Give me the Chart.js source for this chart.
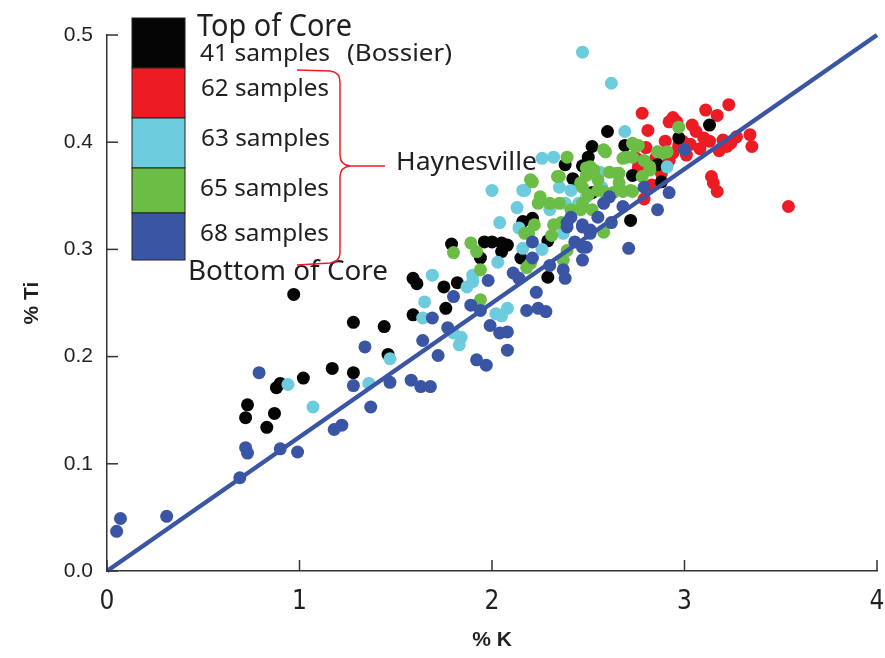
<!DOCTYPE html>
<html>
<head>
<meta charset="utf-8">
<script src="https://cdn.jsdelivr.net/npm/chart.js@4.4.1/dist/chart.umd.min.js"></script>
<style>
  body { margin: 0; background: #fff; }
  #wrap { position: relative; width: 885px; height: 658px; }
  #overlay { position: absolute; left: 0; top: 0; pointer-events: none; }
  #overlay text { font-family: "Noto Sans", "Open Sans", sans-serif; fill: #231f20; }
</style>
</head>
<body>
<div id="wrap">
  <canvas id="grafico" width="885" height="658"></canvas>
  <svg id="overlay" width="885" height="658">
    <rect x="132" y="18" width="53" height="50" fill="#050505" stroke="#222" stroke-width="1"/>
    <rect x="132" y="68" width="53" height="50" fill="#ed1c24" stroke="#222" stroke-width="1"/>
    <rect x="132" y="118" width="53" height="50" fill="#6ccbdc" stroke="#222" stroke-width="1"/>
    <rect x="132" y="168" width="53" height="45" fill="#6cbd45" stroke="#222" stroke-width="1"/>
    <rect x="132" y="213" width="53" height="47" fill="#3b55a5" stroke="#222" stroke-width="1"/>
    <text x="197" y="36" font-size="30" textLength="155" lengthAdjust="spacingAndGlyphs">Top of Core</text>
    <text x="200" y="61" font-size="23" textLength="130" lengthAdjust="spacingAndGlyphs">41 samples</text>
    <text x="347" y="61" font-size="23" textLength="105" lengthAdjust="spacingAndGlyphs">(Bossier)</text>
    <text x="201" y="96" font-size="23" textLength="128" lengthAdjust="spacingAndGlyphs">62 samples</text>
    <text x="201" y="146" font-size="23" textLength="129" lengthAdjust="spacingAndGlyphs">63 samples</text>
    <text x="200" y="196" font-size="23" textLength="129" lengthAdjust="spacingAndGlyphs">65 samples</text>
    <text x="200" y="241" font-size="23" textLength="129" lengthAdjust="spacingAndGlyphs">68 samples</text>
    <text x="188" y="280" font-size="28" textLength="200" lengthAdjust="spacingAndGlyphs">Bottom of Core</text>
    <text x="396" y="170" font-size="26" textLength="141" lengthAdjust="spacingAndGlyphs">Haynesville</text>
    <path d="M297,70 L330,71 Q340,72 340,82 L340,155 Q340,165 350,166 L385,166 M350,166 Q340,167 340,177 L340,252 Q340,262 330,263 L297,265"
          fill="none" stroke="#ed1c24" stroke-width="1.5"/>
  </svg>
</div>
<script>
// % K vs % Ti for each core section
var bossier = [
  [0.72,0.143],[0.73,0.155],[0.83,0.134],[0.87,0.147],[0.88,0.171],[0.90,0.175],[0.97,0.258],[1.02,0.180],
  [1.17,0.189],[1.28,0.185],[1.28,0.232],[1.44,0.228],[1.46,0.202],[1.59,0.239],[1.59,0.273],[1.61,0.268],
  [1.75,0.265],[1.76,0.245],[1.82,0.269],[1.79,0.305],[1.94,0.292],[1.96,0.307],[2.00,0.307],[2.05,0.306],
  [2.08,0.304],[2.05,0.298],[2.15,0.292],[2.16,0.326],[2.21,0.329],[2.29,0.274],[2.29,0.308],[2.38,0.379],
  [2.42,0.366],[2.44,0.362],[2.47,0.378],[2.50,0.386],[2.52,0.396],[2.52,0.353],[2.60,0.410],[2.69,0.397],
  [2.73,0.369],[2.72,0.327],[2.86,0.379],[2.88,0.363],[2.97,0.404],[3.13,0.416]
];
var hay62 = [
  [2.78,0.427],[2.81,0.411],[2.92,0.419],[2.94,0.423],[2.96,0.419],[3.11,0.430],[3.17,0.425],[3.23,0.435],
  [3.04,0.416],[3.06,0.410],[3.10,0.404],[3.13,0.401],[3.20,0.402],[3.24,0.399],[3.22,0.396],[3.34,0.407],
  [3.35,0.396],[3.01,0.388],[3.08,0.394],[3.14,0.368],[3.15,0.362],[3.17,0.354],[3.54,0.340],[2.94,0.390],
  [2.97,0.397],[2.88,0.371],[2.92,0.383],[2.85,0.385],[2.80,0.395],[2.76,0.377],[2.83,0.360],[2.99,0.401],
  [3.03,0.398],[2.90,0.401],[2.79,0.347],[2.75,0.385],[3.18,0.392],[3.27,0.405]
];
var hay63 = [
  [0.94,0.174],[1.07,0.153],[1.36,0.175],[1.47,0.198],[1.64,0.236],[1.65,0.251],[1.69,0.276],[1.80,0.222],
  [1.84,0.218],[1.83,0.211],[1.87,0.265],[1.90,0.270],[1.90,0.276],[2.00,0.355],[2.04,0.325],[2.13,0.339],
  [2.03,0.288],[2.02,0.240],[2.08,0.245],[2.05,0.238],[2.16,0.355],[2.17,0.355],[2.26,0.385],[2.32,0.386],
  [2.26,0.300],[2.16,0.301],[2.30,0.337],[2.35,0.358],[2.41,0.355],[2.38,0.343],[2.37,0.315],[2.47,0.484],
  [2.62,0.455],[2.69,0.410],[2.56,0.372],[2.57,0.358],[2.49,0.349],[2.91,0.377],[2.14,0.320],[2.45,0.343]
];
var hay65 = [
  [1.80,0.297],[1.89,0.306],[1.92,0.298],[1.94,0.281],[1.94,0.253],[2.18,0.283],[2.20,0.287],[2.17,0.315],
  [2.19,0.315],[2.31,0.313],[2.32,0.323],[2.36,0.325],[2.24,0.343],[2.39,0.299],[2.37,0.290],[2.39,0.386],
  [2.59,0.391],[2.21,0.363],[2.20,0.365],[2.34,0.368],[2.49,0.376],[2.25,0.349],[2.30,0.343],[2.35,0.343],
  [2.47,0.358],[2.55,0.365],[2.22,0.323],[2.46,0.337],[2.50,0.351],[2.58,0.393],[2.53,0.374],[2.97,0.414],
  [2.74,0.397],[2.86,0.391],[2.89,0.390],[2.91,0.391],[2.73,0.399],[2.76,0.397],[2.70,0.386],[2.73,0.386],
  [2.68,0.385],[2.79,0.383],[2.82,0.377],[2.78,0.368],[2.66,0.371],[2.61,0.372],[2.51,0.377],[2.49,0.369],
  [2.46,0.362],[2.55,0.355],[2.58,0.354],[2.63,0.353],[2.68,0.354],[2.73,0.354],[2.47,0.343],[2.52,0.337],
  [2.41,0.337],[2.58,0.316],[2.35,0.368],[2.65,0.371],[2.82,0.374],[2.66,0.362],[2.72,0.355]
];
var hay68 = [
  [0.05,0.037],[0.07,0.049],[0.31,0.051],[0.69,0.087],[0.72,0.115],[0.73,0.110],[0.90,0.114],[0.99,0.111],
  [1.18,0.132],[1.22,0.136],[0.79,0.185],[1.28,0.173],[1.37,0.153],[1.34,0.209],[1.47,0.176],[1.58,0.178],
  [1.63,0.172],[1.68,0.172],[1.64,0.215],[1.69,0.236],[1.72,0.201],[1.77,0.227],[1.80,0.256],[1.89,0.248],
  [1.94,0.243],[1.92,0.197],[1.97,0.192],[1.99,0.229],[2.04,0.222],[2.08,0.223],[2.08,0.206],[1.98,0.271],
  [2.11,0.278],[2.14,0.273],[2.18,0.243],[2.24,0.245],[2.28,0.242],[2.23,0.260],[2.21,0.292],[2.21,0.307],
  [2.37,0.281],[2.38,0.273],[2.47,0.290],[2.49,0.302],[2.39,0.321],[2.47,0.323],[2.51,0.318],[2.43,0.307],
  [2.61,0.349],[2.58,0.343],[2.68,0.340],[2.41,0.330],[2.39,0.325],[2.47,0.321],[2.51,0.315],[2.47,0.302],
  [2.79,0.358],[2.86,0.337],[2.92,0.353],[3.00,0.393],[2.71,0.301],[2.30,0.285],[2.55,0.330],[2.62,0.325]
];
// reference line
var lineK = [0, 4];
var lineTi = [0, 0.5];

var xTicks = [0, 1, 2, 3, 4];
var yTicks = [0, 0.1, 0.2, 0.3, 0.4, 0.5];

function pts(arr) {
  return arr.map(function (p) { return { x: p[0], y: p[1] }; });
}

function serie(label, arr, cor, ordem) {
  return {
    label: label,
    data: pts(arr),
    backgroundColor: cor,
    borderWidth: 0,
    pointRadius: 6.5,
    pointHoverRadius: 6.5,
    order: ordem
  };
}

var tickFont = "'Liberation Sans Narrow', 'DejaVu Sans Condensed', sans-serif";

// ticks pointing into the plot
var innerTicks = {
  id: 'innerTicks',
  afterDraw: function (chart) {
    var ctx = chart.ctx, a = chart.chartArea, x = chart.scales.x, y = chart.scales.y;
    ctx.save();
    ctx.strokeStyle = '#333';
    ctx.lineWidth = 1.5;
    xTicks.forEach(function (v) {
      var px = x.getPixelForValue(v);
      ctx.beginPath(); ctx.moveTo(px, a.bottom); ctx.lineTo(px, a.bottom - 11); ctx.stroke();
    });
    yTicks.forEach(function (v) {
      var py = y.getPixelForValue(v);
      ctx.beginPath(); ctx.moveTo(a.left, py); ctx.lineTo(a.left + 11, py); ctx.stroke();
    });
    ctx.restore();
  }
};

var ctx = document.getElementById('grafico').getContext('2d');
var grafico = new Chart(ctx, {
  type: 'scatter',
  data: {
    datasets: [
      {
        type: 'line',
        label: 'linha',
        data: lineK.map(function (k, i) { return { x: k, y: lineTi[i] }; }),
        borderColor: '#3b55a5',
        borderWidth: 4.5,
        pointRadius: 0,
        fill: false,
        lineTension: 0,
        clip: false,
        order: 0
      },
      serie('68 samples', hay68, '#3b55a5', 1),
      serie('65 samples', hay65, '#6cbd45', 2),
      serie('63 samples', hay63, '#6ccbdc', 3),
      serie('41 samples (Bossier)', bossier, '#050505', 4),
      serie('62 samples', hay62, '#ed1c24', 5)
    ]
  },
  options: {
    responsive: false,
    animation: false,
    layout: { autoPadding: false, padding: { top: 35, right: 8, left: 0, bottom: 0 } },
    plugins: { legend: { display: false }, tooltip: { enabled: false } },
    scales: {
      x: {
        type: 'linear', min: 0, max: 4,
        afterBuildTicks: function (s) { s.ticks = xTicks.map(function (v) { return { value: v }; }); },
        ticks: { color: '#231f20', font: { family: tickFont, size: 26 }, padding: 16 },
        grid: { display: false, drawTicks: false },
        border: { display: true, color: '#333', width: 1.5 },
        title: { display: true, text: '% K', color: '#231f20',
                 font: { family: 'Liberation Sans', weight: 'bold', size: 21 }, padding: { top: 4, bottom: 5 } },
        afterFit: function (s) { s.height = 87; s.paddingLeft = 0; s.paddingRight = 0; }
      },
      y: {
        type: 'linear', min: 0, max: 0.5,
        afterBuildTicks: function (s) { s.ticks = yTicks.map(function (v) { return { value: v }; }); },
        ticks: { color: '#231f20', font: { family: 'Liberation Sans', size: 21 }, padding: 14,
                 callback: function (v) { return Number(v).toFixed(1); } },
        grid: { display: false, drawTicks: false },
        border: { display: true, color: '#333', width: 1.5 },
        title: { display: true, text: '% Ti', color: '#231f20',
                 font: { family: 'Liberation Sans', weight: 'bold', size: 21 }, padding: { top: 20, bottom: 4 } },
        afterFit: function (s) { s.width = 107; s.paddingTop = 0; s.paddingBottom = 0; }
      }
    }
  },
  plugins: [innerTicks]
});
</script>
</body>
</html>
